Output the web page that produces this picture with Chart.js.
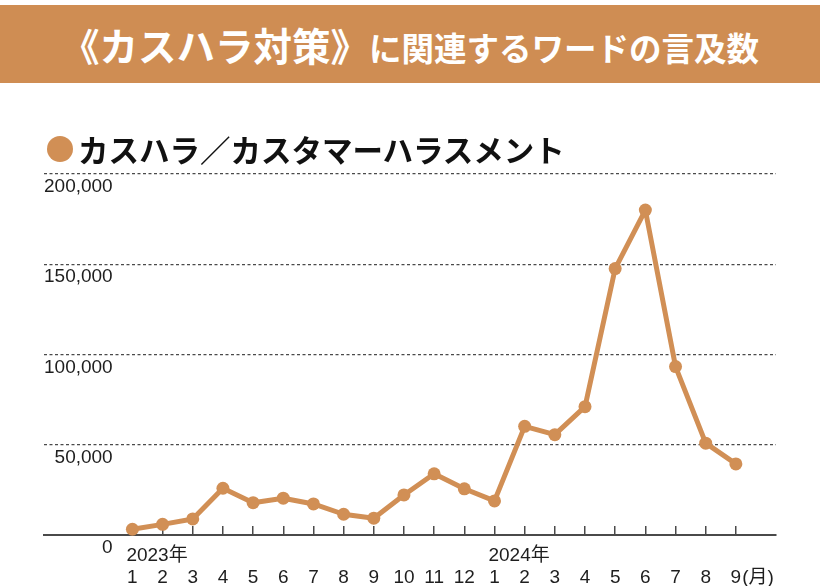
<!DOCTYPE html>
<html lang="ja">
<head>
<meta charset="utf-8">
<title>カスハラ対策に関連するワードの言及数</title>
<script src="https://cdn.jsdelivr.net/npm/chart.js@4.4.1/dist/chart.umd.min.js"></script>
<style>
  html, body { margin: 0; padding: 0; background: #fff; }
  #wrap { position: relative; width: 820px; height: 586px; overflow: hidden; }
  #banner {
    position: absolute; left: 0; top: 5px; width: 820px; height: 78px;
    background: #cf8d53; color: #fff; text-align: center; white-space: nowrap;
    font-family: "Noto Sans CJK JP", sans-serif; font-weight: 700;
    font-size: 38.5px; line-height: 78px;
  }
  #banner .sub { font-size: 32.5px; }
  #legend {
    position: absolute; left: 47px; top: 129px; height: 40px;
    display: flex; align-items: center; white-space: nowrap;
    font-family: "Noto Sans CJK JP", sans-serif; font-weight: 700; font-size: 30.5px; color: #111;
  }
  #legend .dot { width: 26px; height: 26px; border-radius: 50%; background: #d18f55; margin-right: 5px; }
  canvas { position: absolute; left: 0; top: 0; }
</style>
</head>
<body>
<div id="wrap">
  <canvas id="chart" width="820" height="586"></canvas>
  <div id="banner"><span>《カスハラ対策》</span><span class="sub">に関連するワードの言及数</span></div>
  <div id="legend"><span class="dot"></span><span id="legend-text"></span></div>
</div>
<script>
// 2023年1月〜2024年9月
const monthLabels = ['1', '2', '3', '4', '5', '6', '7', '8', '9', '10', '11', '12',
                     '1', '2', '3', '4', '5', '6', '7', '8', '9'];
const yearLabels = ['2023年', '', '', '', '', '', '', '', '', '', '', '',
                    '2024年', '', '', '', '', '', '', '', ''];
const mentions = [3200, 5900, 8900, 25900, 17900, 20400, 17200, 11500, 9300, 22200, 33900, 25600,
                  18900, 60200, 55600, 71100, 147600, 180000, 93300, 50900, 39400];
const yTicks = [0, 50000, 100000, 150000, 200000];
const seriesName = 'カスハラ／カスタマーハラスメント';
const monthUnit = '(月)';

const orange = '#d18f55';
const ink = '#1e1e1e';
const lineGray = '#4a4a4a';

document.getElementById('legend-text').textContent = seriesName;

Chart.defaults.font.family = '"Liberation Sans", "Noto Sans CJK JP", sans-serif';
Chart.defaults.font.size = 19;
Chart.defaults.color = ink;

// "(月)" after the last month label
const unitLabel = {
    id: 'unitLabel',
    afterDraw(chart) {
        const sx = chart.scales.month;
        const last = monthLabels.length - 1;
        const item = sx.getLabelItems()[last];
        const ctx = chart.ctx;
        ctx.save();
        ctx.font = item.font.string;
        const w = ctx.measureText(monthLabels[last]).width;
        ctx.fillStyle = ink;
        ctx.textAlign = 'left';
        ctx.textBaseline = 'middle';
        ctx.fillText(monthUnit, sx.getPixelForValue(last) + w / 2 + 1, item.options.translation[1] + item.textOffset);
        ctx.restore();
    }
};

const xMin = -2.93, xMax = 21.33;

new Chart(document.getElementById('chart'), {
    type: 'line',
    data: {
        datasets: [{
            label: seriesName,
            data: mentions.map((v, i) => ({ x: i, y: v })),
            borderColor: orange,
            backgroundColor: orange,
            borderWidth: 5,
            borderJoinStyle: 'round',
            pointRadius: 6.5,
            pointHoverRadius: 6.5,
            pointBorderWidth: 0,
            pointBackgroundColor: orange,
            tension: 0,
            clip: false
        }]
    },
    options: {
        responsive: false,
        animation: false,
        layout: { padding: { top: 174, left: 44, right: 44, bottom: 0 } },
        plugins: { legend: { display: false }, title: { display: false }, tooltip: { enabled: false } },
        scales: {
            x: {
                type: 'linear', position: 'bottom', weight: 0,
                min: xMin, max: xMax,
                afterBuildTicks: (s) => { s.ticks = monthLabels.map((_, i) => ({ value: i })); },
                afterFit: (s) => { s.height = 29; },
                grid: { display: true, drawOnChartArea: false, drawTicks: true, tickLength: -9, color: lineGray, lineWidth: 1.5 },
                border: { display: true, color: lineGray, width: 2 },
                ticks: {
                    autoSkip: false, maxRotation: 0, minRotation: 0,
                    align: 'start', labelOffset: -6, padding: 18.5,
                    callback: (v) => yearLabels[v] || ''
                }
            },
            month: {
                type: 'linear', axis: 'x', position: 'bottom', weight: 1,
                min: xMin, max: xMax,
                afterBuildTicks: (s) => { s.ticks = monthLabels.map((_, i) => ({ value: i })); },
                afterFit: (s) => { s.height = 22; },
                grid: { display: false, drawTicks: false },
                border: { display: false },
                ticks: {
                    autoSkip: false, maxRotation: 0, minRotation: 0, padding: 2,
                    callback: (v) => monthLabels[v]
                }
            },
            y: {
                min: 0, max: 200000,
                afterBuildTicks: (s) => { s.ticks = yTicks.map(v => ({ value: v })); },
                grid: {
                    drawTicks: false,
                    color: (c) => c.tick && c.tick.value === 0 ? 'rgba(0,0,0,0)' : lineGray,
                    lineWidth: 1.3
                },
                border: { display: false, dash: [3, 2.5] },
                ticks: {
                    mirror: true, crossAlign: 'far', padding: 0, labelOffset: 13,
                    callback: (v) => v.toLocaleString('en-US')
                }
            }
        }
    },
    plugins: [unitLabel]
});
</script>
</body>
</html>
